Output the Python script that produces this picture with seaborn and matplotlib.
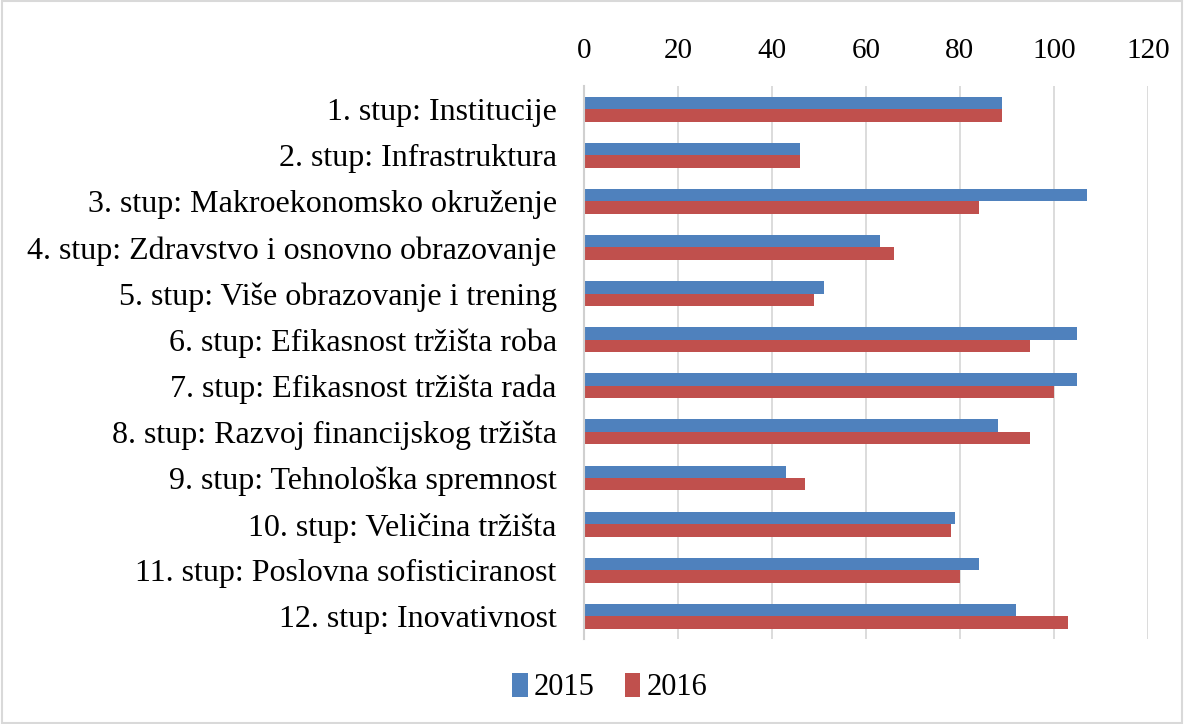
import matplotlib
matplotlib.use("Agg")
import matplotlib.pyplot as plt
import seaborn as sns
import pandas as pd
from matplotlib.patches import Rectangle, Patch

categories = [
    "1. stup: Institucije",
    "2. stup: Infrastruktura",
    "3. stup: Makroekonomsko okruženje",
    "4. stup: Zdravstvo i osnovno obrazovanje",
    "5. stup: Više obrazovanje i trening",
    "6. stup: Efikasnost tržišta roba",
    "7. stup: Efikasnost tržišta rada",
    "8. stup: Razvoj financijskog tržišta",
    "9. stup: Tehnološka spremnost",
    "10. stup: Veličina tržišta",
    "11. stup: Poslovna sofisticiranost",
    "12. stup: Inovativnost",
]
values_2015 = [89, 46, 107, 63, 51, 105, 105, 88, 43, 79, 84, 92]
values_2016 = [89, 46, 84, 66, 49, 95, 100, 95, 47, 78, 80, 103]
series_names = ["2015", "2016"]
x_ticks = [0, 20, 40, 60, 80, 100, 120]

df = pd.DataFrame({
    "category": categories * 2,
    "value": values_2015 + values_2016,
    "year": [series_names[0]] * len(categories) + [series_names[1]] * len(categories),
})

sns.set_theme(style="white")
plt.rcParams["font.family"] = ["Liberation Serif", "DejaVu Serif"]
plt.rcParams["text.color"] = "black"

colors = {"2015": "#4F81BD", "2016": "#C0504D"}

fig = plt.figure(figsize=(11.84, 7.24), dpi=100)
ax = fig.add_axes([0.493, 0.117, 0.4766, 0.764])

sns.barplot(data=df, y="category", x="value", hue="year", hue_order=series_names,
            palette=colors, orient="h", width=0.54, ax=ax, legend=False,
            saturation=1, linewidth=0)

ax.set_xlim(0, 120)
ax.set_xticks(x_ticks)
ax.xaxis.tick_top()
ax.tick_params(axis="x", labelsize=21, length=0, pad=16, labelcolor="black")
ax.tick_params(axis="y", labelsize=23, length=0, pad=19.5, labelcolor="black")
ax.set_xlabel("")
ax.set_ylabel("")
ax.grid(axis="x", color="#D9D9D9", linewidth=1.3)
ax.grid(axis="y", visible=False)
ax.set_axisbelow(True)
for s in ["top", "right", "bottom"]:
    ax.spines[s].set_visible(False)
ax.spines["left"].set_color("#D0D0D0")
ax.spines["left"].set_linewidth(1.5)
ax.set_ylim(len(categories) - 0.5, -0.5)

handles = [Patch(facecolor=colors[n], edgecolor="none") for n in series_names]
fig.legend(handles, series_names, loc="center", bbox_to_anchor=(0.515, 0.05),
           ncol=2, frameon=False, fontsize=22, handlelength=0.5, handleheight=0.8,
           handletextpad=0.2, columnspacing=1.0)

fig.patches.append(Rectangle((0.002, 0.002), 0.996, 0.996, transform=fig.transFigure,
                             fill=False, edgecolor="#D9D9D9", linewidth=1.5))

fig.savefig("out.png", dpi=100)
